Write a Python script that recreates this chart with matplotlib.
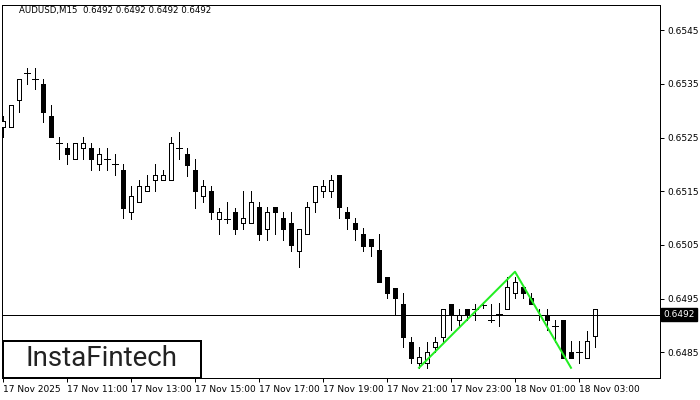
import matplotlib
matplotlib.use('Agg')
import matplotlib.pyplot as plt
from matplotlib.patches import Rectangle

# AUDUSD M15 candles, 17 Nov 09:00 -> 18 Nov 03:30
opens = [0.65270, 0.65270, 0.65320, 0.65370, 0.65359, 0.65350, 0.65290, 0.65240, 0.65230, 0.65210,
         0.65230, 0.65230, 0.65201, 0.65210, 0.65201, 0.65189, 0.65111, 0.65130, 0.65150, 0.65171,
         0.65171, 0.65171, 0.65230, 0.65219, 0.65189, 0.65141, 0.65150, 0.65098, 0.65098, 0.65111,
         0.65091, 0.65091, 0.65121, 0.65080, 0.65121, 0.65100, 0.65091, 0.65039, 0.65070, 0.65130,
         0.65150, 0.65150, 0.65180, 0.65111, 0.65091, 0.65070, 0.65061, 0.65040, 0.64990, 0.64970,
         0.64940, 0.64869, 0.64830, 0.64830, 0.64860, 0.64879, 0.64940, 0.64910, 0.64931, 0.64931,
         0.64938, 0.64910, 0.64921, 0.64931, 0.64960, 0.64972, 0.64951, 0.64920, 0.64920, 0.64899,
         0.64910, 0.64851, 0.64851, 0.64839, 0.64880]
highs = [0.65290, 0.65310, 0.65359, 0.65379, 0.65379, 0.65359, 0.65310, 0.65251, 0.65240, 0.65240,
         0.65251, 0.65240, 0.65230, 0.65230, 0.65219, 0.65201, 0.65160, 0.65171, 0.65180, 0.65201,
         0.65189, 0.65251, 0.65260, 0.65230, 0.65210, 0.65171, 0.65160, 0.65119, 0.65130, 0.65119,
         0.65150, 0.65150, 0.65130, 0.65121, 0.65121, 0.65111, 0.65111, 0.65080, 0.65130, 0.65160,
         0.65171, 0.65180, 0.65180, 0.65121, 0.65100, 0.65081, 0.65061, 0.65070, 0.64990, 0.64970,
         0.64960, 0.64879, 0.64860, 0.64869, 0.64879, 0.64931, 0.64940, 0.64931, 0.64931, 0.64940,
         0.64944, 0.64940, 0.64942, 0.64990, 0.64990, 0.64972, 0.64960, 0.64931, 0.64931, 0.64910,
         0.64910, 0.64871, 0.64871, 0.64890, 0.64930]
lows = [0.65251, 0.65270, 0.65297, 0.65350, 0.65340, 0.65279, 0.65251, 0.65210, 0.65201, 0.65210,
        0.65210, 0.65189, 0.65189, 0.65189, 0.65180, 0.65100, 0.65098, 0.65130, 0.65150, 0.65150,
        0.65171, 0.65171, 0.65210, 0.65178, 0.65119, 0.65130, 0.65098, 0.65070, 0.65091, 0.65070,
        0.65080, 0.65091, 0.65059, 0.65059, 0.65070, 0.65059, 0.65039, 0.65009, 0.65070, 0.65111,
        0.65139, 0.65139, 0.65100, 0.65080, 0.65059, 0.65039, 0.65029, 0.64981, 0.64951, 0.64921,
        0.64860, 0.64830, 0.64821, 0.64821, 0.64851, 0.64869, 0.64892, 0.64899, 0.64910, 0.64910,
        0.64932, 0.64906, 0.64899, 0.64931, 0.64951, 0.64951, 0.64940, 0.64910, 0.64892, 0.64869,
        0.64839, 0.64839, 0.64830, 0.64839, 0.64860]
closes = [0.65281, 0.65310, 0.65359, 0.65370, 0.65359, 0.65297, 0.65251, 0.65240, 0.65219, 0.65240,
          0.65240, 0.65210, 0.65219, 0.65210, 0.65201, 0.65119, 0.65141, 0.65160, 0.65160, 0.65180,
          0.65180, 0.65240, 0.65230, 0.65199, 0.65150, 0.65160, 0.65111, 0.65111, 0.65098, 0.65080,
          0.65100, 0.65130, 0.65070, 0.65111, 0.65111, 0.65080, 0.65050, 0.65080, 0.65121, 0.65160,
          0.65160, 0.65171, 0.65121, 0.65100, 0.65080, 0.65048, 0.65048, 0.64981, 0.64960, 0.64951,
          0.64879, 0.64839, 0.64841, 0.64851, 0.64869, 0.64931, 0.64921, 0.64920, 0.64921, 0.64931,
          0.64938, 0.64910, 0.64921, 0.64972, 0.64981, 0.64960, 0.64940, 0.64920, 0.64910, 0.64899,
          0.64839, 0.64839, 0.64851, 0.64871, 0.64930]

# pattern (double bottom) drawn in green
pattern_bars = [52, 64, 71]
pattern_prices = [0.64821, 0.65000, 0.64821]

current_price = 0.6492
price_ticks = [0.6485, 0.6495, 0.6505, 0.6515, 0.6525, 0.6535, 0.6545]
time_tick_bars = [0, 8, 16, 24, 32, 40, 48, 56, 64, 72]
time_tick_labels = ['17 Nov 2025', '17 Nov 11:00', '17 Nov 13:00', '17 Nov 15:00', '17 Nov 17:00',
                    '17 Nov 19:00', '17 Nov 21:00', '17 Nov 23:00', '18 Nov 01:00', '18 Nov 03:00']
title = 'AUDUSD,M15  0.6492 0.6492 0.6492 0.6492'

plt.rcParams['font.family'] = ['DejaVu Sans']
PX = 0.72  # one pixel in points at dpi 100

fig = plt.figure(figsize=(7, 4), dpi=100)
ax = fig.add_axes([2 / 700, 22 / 400, 658 / 700, 373 / 400])

# wicks + bodies
body_w = 0.5
for i in range(len(opens)):
    o, h, l, c = opens[i], highs[i], lows[i], closes[i]
    ax.vlines(i, l, h, color='black', linewidth=PX, zorder=2, antialiased=False)
    if abs(c - o) < 0.00002:
        ax.hlines(o, i - 0.35, i + 0.35, color='black', linewidth=PX, zorder=3, antialiased=False)
    else:
        fc = 'white' if c > o else 'black'
        ax.bar(i, abs(c - o), bottom=min(o, c), width=body_w, facecolor=fc,
               edgecolor='black', linewidth=PX, zorder=3, antialiased=False)

ax.plot(pattern_bars, pattern_prices, color='#22ee22', linewidth=2 * PX, zorder=5)

# current price line + label
ax.axhline(current_price, color='black', linewidth=PX, zorder=4)
ax.annotate('%.4f' % current_price, xy=(1.0, current_price), xycoords=('axes fraction', 'data'),
            xytext=(3, 0), textcoords='offset pixels', ha='left', va='center',
            fontsize=6.5, color='white',
            bbox=dict(boxstyle='square,pad=0.25', facecolor='black', edgecolor='black'),
            annotation_clip=False)

ax.set_xlim(-0.125, 82.125)
ax.set_ylim(0.64802, 0.65497)

ax.yaxis.tick_right()
ax.set_yticks(price_ticks)
ax.set_yticklabels(['%.4f' % p for p in price_ticks])
ax.tick_params(axis='y', length=3, width=PX, pad=2, labelsize=6.5, colors='black')

ax.set_xticks(time_tick_bars)
ax.set_xticklabels(time_tick_labels, ha='left')
ax.tick_params(axis='x', length=3, width=PX, pad=2, labelsize=6.5, colors='black')

for sp in ax.spines.values():
    sp.set_color('black')
    sp.set_linewidth(PX)

fig.text(19 / 700, 1 - 11 / 400, title, fontsize=6.2, va='center', ha='left')

# logo box bottom-left
fig.patches.append(Rectangle((3 / 700, 22 / 400), 198 / 700, 37 / 400, transform=fig.transFigure,
                             facecolor='white', edgecolor='black', linewidth=2 * PX, zorder=10))
fig.text(102 / 700, 1 - 359 / 400, 'InstaFintech', fontsize=20, family='Roboto',
         color='#222222', ha='center', va='center', zorder=11)

fig.savefig('out.png', dpi=100)
